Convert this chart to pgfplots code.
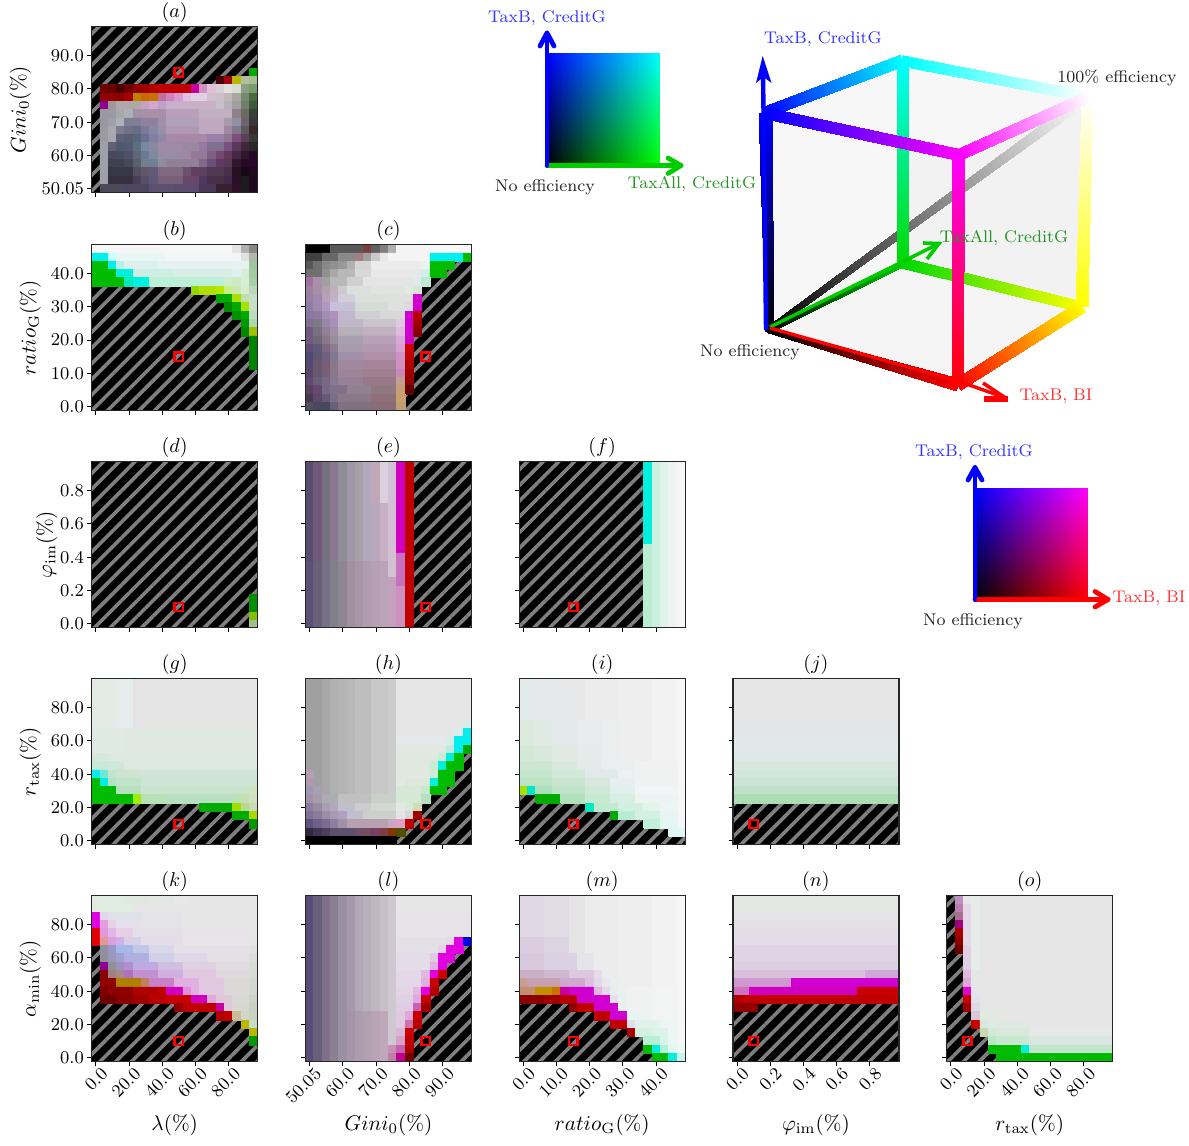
\documentclass[border=0pt]{standalone}
\usepackage{pgfplots}
\pgfplotsset{compat=1.18}
\usepgfplotslibrary{patchplots}
\usetikzlibrary{patterns.meta}
\def\Y#1#2{\gdef\Ya{#1}\gdef\Yb{#2}}
\def\C#1 #2 #3;{\xglobal\definecolor{c#3}{HTML}{#3}\edef\tmp{\noexpand\addplot[forget plot,fill=c#3,draw=c#3,line width=0.4pt] coordinates {(#1,\Ya)(\the\numexpr#2+1\relax,\Ya)(\the\numexpr#2+1\relax,\the\numexpr\Yb+1\relax)(#1,\the\numexpr\Yb+1\relax)(#1,\Ya)};}\tmp}
\def\H{\addplot[forget plot,fill=black,draw=none] coordinates {(0,0)(20,0)(20,20)(0,20)(0,0)};
\addplot[forget plot,draw=none,pattern={Lines[angle=45,distance=5.55pt,line width=1.8pt]},pattern color=gray] coordinates {(0,0)(20,0)(20,20)(0,20)(0,0)};}
\def\M#1#2{\edef\tmp{\noexpand\addplot[forget plot,red,line width=1.2pt] coordinates {(#1,#2)(\the\numexpr#1+1\relax,#2)(\the\numexpr#1+1\relax,\the\numexpr#2+1\relax)(#1,\the\numexpr#2+1\relax)(#1,#2)(\the\numexpr#1+1\relax,#2)};}\tmp}
% gradient edge: corners 1,4 at the start colour, 2,3 at the end colour
\newcommand\E[6]{\addplot[forget plot,patch,patch type=bilinear,shader=interp,mesh/color input=explicit] table[meta=c,row sep=crcr] {x y c\\ #1 rgb=#5\\ #2 rgb=#6\\ #3 rgb=#6\\ #4 rgb=#5\\};}
\newcommand\F[5]{\addplot[forget plot,fill=#5,draw=none] coordinates {#1 #2 #3 #4};}
\newcommand\T[4]{\node[text=#3,font=\fontsize{8.45}{10}\selectfont] at (axis cs:#1,#2) {#4};}
\pgfplotsset{panel/.style={scale only axis,width=83pt,height=83pt,anchor=south west,xmin=0,xmax=20,ymin=0,ymax=20,
 axis on top,xtick={0.5,4.5,8.5,12.5,16.5},ytick={0.5,4.5,8.5,12.5,16.5},xticklabels={},yticklabels={},
 xtick pos=bottom,ytick pos=left,tick align=outside,major tick length=2.2pt,
 tick style={black,line width=0.5pt},axis line style={line width=0.55pt,black!85},
 tick label style={font=\fontsize{9}{10}\selectfont},
 title style={font=\fontsize{10}{11}\selectfont,at={(0.5,1)},anchor=south,yshift=-7.5pt},
 x tick label style={rotate=45,anchor=north east,inner sep=1.5pt,xshift=3pt},
 y tick label style={inner sep=1.5pt},
 every axis x label/.style={at={(axis description cs:0.5,-0.38)},anchor=center,scale=1.06,font=\fontsize{10}{11}\selectfont},
 every axis y label/.style={at={(axis description cs:-0.37,0.5)},anchor=center,rotate=90,scale=1.06,font=\fontsize{10}{11}\selectfont}},
 xA/.style={xticklabels={0.0,20.0,40.0,60.0,80.0}},yA/.style={yticklabels={0.0,20.0,40.0,60.0,80.0}},
 xG/.style={xticklabels={50.05,60.0,70.0,80.0,90.0}},yG/.style={yticklabels={50.05,60.0,70.0,80.0,90.0}},
 xR/.style={xticklabels={0.0,10.0,20.0,30.0,40.0}},yR/.style={yticklabels={0.0,10.0,20.0,30.0,40.0}},
 xP/.style={xticklabels={0.0,0.2,0.4,0.6,0.8}},yP/.style={yticklabels={0.0,0.2,0.4,0.6,0.8}}}
\begin{document}
\begin{tikzpicture}
\useasboundingbox (0,0) rectangle (594.5pt,573pt);
% ---------- colour keys ----------
\begin{axis}[at={(0,0)},anchor=south west,scale only axis,width=594.5pt,height=573pt,hide axis,xmin=0,xmax=1189,ymin=0,ymax=1146,y dir=reverse,clip=false]
% square 1
\addplot[forget plot,patch,patch type=bilinear,shader=interp,mesh/color input=explicit] table[meta=c,row sep=crcr] {x y c\\ 547 166 rgb=0,0,0\\ 659 166 rgb=0,1,0\\ 659 54 rgb=0,1,1\\ 547 54 rgb=0,0,1\\};
\addplot[forget plot,color={rgb,255:red,0;green,204;blue,0},line width=2.4pt,line cap=round,line join=round] coordinates {(547,165.5)(681,165.5)};
\addplot[forget plot,color={rgb,255:red,0;green,204;blue,0},line width=2.4pt,line cap=round,line join=round] coordinates {(668,158)(681,165.5)(668,173.5)};
\addplot[forget plot,blue,line width=2.4pt,line cap=round,line join=round] coordinates {(547,165.5)(547,33)};
\addplot[forget plot,blue,line width=2.4pt,line cap=round,line join=round] coordinates {(540,46)(547,33)(554,46)};
\T{547}{18}{blue!80!white}{TaxB, CreditG}
\T{545}{187}{black!85}{No efficiency}
\T{692}{184}{green!50!black!85}{TaxAll, CreditG}
% square 2
\addplot[forget plot,patch,patch type=bilinear,shader=interp,mesh/color input=explicit] table[meta=c,row sep=crcr] {x y c\\ 975 600 rgb=0,0,0\\ 1087 600 rgb=1,0,0\\ 1087 488 rgb=1,0,1\\ 975 488 rgb=0,0,1\\};
\addplot[forget plot,red,line width=2.4pt,line cap=round,line join=round] coordinates {(975,599.5)(1108,599.5)};
\addplot[forget plot,red,line width=2.4pt,line cap=round,line join=round] coordinates {(1095,591.5)(1108,599.5)(1095,607)};
\addplot[forget plot,blue,line width=2.4pt,line cap=round,line join=round] coordinates {(975,599.5)(975,467.5)};
\addplot[forget plot,blue,line width=2.4pt,line cap=round,line join=round] coordinates {(968,480)(975,467.5)(982,480)};
\T{974}{452}{blue!80!white}{TaxB, CreditG}
\T{1149}{598}{red!80!white}{TaxB, BI}
\T{973}{621}{black!85}{No efficiency}
% cube faces
\F{(768,330)}{(764,113)}{(902,61)}{(902,263)}{black!3}
\F{(902,263)}{(902,61)}{(1088,97)}{(1082,307)}{black!5}
\F{(768,330)}{(902,263)}{(1082,307)}{(958,385)}{black!4}
\F{(764,113)}{(902,61)}{(1088,97)}{(959,155)}{black!3}
% cube edges
\E{769 329}{903 260}{903 267}{769 333}{0,0,0}{0,.8,0}
\E{766.5 328}{1085 93}{1091 101}{769.5 332}{0,0,0}{1,1,1}
\E{766 332}{759 113}{772 113}{774 332}{0,0,0}{0,0,1}
\E{769 327.6}{959.7 379.2}{956.3 390.8}{767 332.4}{0,0,0}{1,0,0}
\E{897 61}{897 263}{908 263}{908 61}{0,1,1}{0,.85,0}
\E{903 258}{1083 302}{1081 312}{901 268}{0,.85,0}{1,1,0}
\E{1082 97}{1076 307}{1088 307}{1093 97}{1,1,1}{1,1,0}
\E{955 380}{1079 302}{1085 312}{961 390}{1,0,0}{1,1,0}
\E{762 108}{900 55.5}{904 66}{766 118}{0,0,1}{0,1,1}
\E{903 56}{1089 92}{1087 102}{901 66}{0,1,1}{1,1,1}
\E{957 150}{1086 92}{1090 102}{961 160}{1,0,1}{1,1,1}
\E{765 107.6}{960 149.6}{958 160.4}{763 118.4}{0,0,1}{1,0,1}
\E{953 155}{952 385}{963 385}{965 155}{1,0,1}{1,0,0}
% cube arrows on the edges
\addplot[forget plot,blue,line width=2.2pt] coordinates {(766,330)(763,70)};
\addplot[forget plot,fill=blue,draw=none] coordinates {(762.7,56)(771.5,83)(763.5,77)(756,83)(762.7,56)};
\addplot[forget plot,color={rgb,255:red,0;green,204;blue,0},line width=1.7pt] coordinates {(770,327)(902,262)(938,244)};
\addplot[forget plot,color={rgb,255:red,0;green,204;blue,0},line width=1.8pt] coordinates {(923,243)(939,243.5)(927,259)};
\addplot[forget plot,red,line width=1.7pt] coordinates {(770,328)(958,381)(1006,398)};
\addplot[forget plot,red,line width=1.8pt] coordinates {(983,383)(1004,397)};
\addplot[forget plot,red,line width=3pt] coordinates {(984,398.5)(1008,398.5)};
\T{823}{39}{blue!80!white}{TaxB, CreditG}
\T{1117}{78}{black!85}{100\% efficiency}
\T{1004}{238}{green!50!black!85}{TaxAll, CreditG}
\T{750}{352}{black!85}{No efficiency}
\T{1056}{396}{red!80!white}{TaxB, BI}
\end{axis}
% ---------- (a) ----------
\begin{axis}[panel,at={(45.85pt,476.65pt)},title={$(a)$},ylabel={$Gini_0(\%)$},yG,ylabel style={at={(axis description cs:-0.43,0.5)}}]
\H
\Y{14}{14}\C 19 19 00AA00;
\Y{13}{13}\C 15 15 4A0008;\C 16 16 A00010;\C 17 17 B8B800;\C 18 18 B0C0A0;\C 19 19 A0C090;
\Y{12}{12}\C 1 2 6A0000;\C 3 3 4A0000;\C 4 4 700000;\C 5 5 900000;\C 6 6 A00000;\C 7 7 B00000;\C 8 11 C00000;\C 12 12 C800A0;\C 13 13 D090C0;\C 14 14 E0C0D8;\C 15 15 D8D0D4;\C 16 16 E0E0DC;\C 17 17 D8DCD0;\C 18 18 8AA080;\C 19 19 7A9A70;
\Y{11}{11}\C 1 3 900000;\C 4 4 A80000;\C 5 5 C08000;\C 6 6 C86800;\C 7 7 C87000;\C 8 8 C070A0;\C 9 9 D080C0;\C 10 10 D898D0;\C 11 11 E0C0E0;\C 12 13 E0D0E4;\C 14 14 D0C0D0;\C 15 15 CCC0C8;\C 16 16 C0B8B8;\C 17 17 A8A8A0;\C 18 18 788870;\C 19 19 4A6A40;
\Y{10}{10}\C 1 1 900090;\C 2 2 A09898;\C 3 5 B0A8A8;\C 6 6 C8A0C0;\C 7 7 D0A8D0;\C 8 8 C0A0C8;\C 9 14 C8B0C8;\C 15 15 C8C0C8;\C 16 16 B8B0B8;\C 17 17 A0A0A0;\C 18 18 6F7F68;\C 19 19 3F5A3A;
\Y{9}{9}\C 1 2 9A9AA0;\C 3 3 A8A8AC;\C 4 4 B0B0B8;\C 5 5 A090A8;\C 6 8 A890A8;\C 9 12 B8A0B8;\C 13 16 C0B0C0;\C 17 17 908088;\C 18 18 6A6A60;\C 19 19 3A4038;
\Y{8}{8}\C 1 1 9898A0;\C 2 2 A0A0A8;\C 3 3 B0B0B8;\C 4 5 7E7E94;\C 6 7 9080A0;\C 8 8 A090A8;\C 9 12 B0A0B8;\C 13 15 C0A8C0;\C 16 16 A89CAC;\C 17 17 9090A0;\C 18 18 706070;\C 19 19 383838;
\Y{7}{7}\C 1 1 9A9AA0;\C 2 2 A8A8B0;\C 3 3 7C7C90;\C 4 4 70708A;\C 5 5 686E88;\C 6 6 7A7A98;\C 7 7 8888A4;\C 8 8 9A90A8;\C 9 12 B098B0;\C 13 15 C0A8C0;\C 16 16 A088A0;\C 17 17 807888;\C 18 18 5A5A58;\C 19 19 3A2828;
\Y{6}{6}\C 1 1 9A9AA0;\C 2 2 A8A8B0;\C 3 3 606078;\C 4 4 585C74;\C 5 5 586478;\C 6 6 6C7090;\C 7 7 8080A0;\C 8 8 9088A8;\C 9 13 A888A8;\C 14 15 9A80A8;\C 16 16 907890;\C 17 17 804C80;\C 18 18 5A4058;\C 19 19 383838;
\Y{5}{5}\C 1 1 A0A0A8;\C 2 2 606078;\C 3 3 505870;\C 4 4 505A70;\C 5 5 587080;\C 6 6 7888A0;\C 7 7 8888A0;\C 8 10 A088A8;\C 11 12 9A88A0;\C 13 13 9878A0;\C 14 15 807090;\C 16 16 7A5080;\C 17 17 583858;\C 18 18 402838;\C 19 19 282828;
\Y{4}{4}\C 1 1 A0A0A8;\C 2 2 484858;\C 3 3 484C60;\C 4 4 505068;\C 5 5 606878;\C 6 6 6A7A90;\C 7 7 8088A0;\C 8 10 988CA8;\C 11 11 A088A0;\C 12 13 987898;\C 14 14 806080;\C 15 15 704870;\C 16 16 603858;\C 17 17 482848;\C 18 18 301828;\C 19 19 280828;
\Y{3}{3}\C 1 1 A0A0A8;\C 2 3 404050;\C 4 4 484858;\C 5 5 586070;\C 6 7 708090;\C 8 8 908CA0;\C 9 12 908098;\C 13 13 806888;\C 14 14 685078;\C 15 15 603860;\C 16 16 583858;\C 17 17 301828;\C 18 19 280828;
\Y{2}{2}\C 1 1 A0A0A8;\C 2 4 383848;\C 5 5 505060;\C 6 6 605868;\C 7 7 685878;\C 8 10 806880;\C 11 11 705070;\C 12 13 604060;\C 14 15 503850;\C 16 16 483048;\C 17 17 281020;\C 18 18 180818;\C 19 19 200820;
\Y{1}{1}\C 1 1 A0A0A8;\C 2 4 383040;\C 5 5 484058;\C 6 6 585068;\C 7 7 605878;\C 8 10 786078;\C 11 12 684868;\C 13 13 503860;\C 14 15 483048;\C 16 16 402848;\C 17 17 281028;\C 18 18 1C1C1C;\C 19 19 200820;
\Y{0}{0}\C 1 3 4A4A58;\C 4 6 4C4660;\C 7 9 5C5070;\C 10 12 5C4C70;\C 13 14 4A3858;\C 15 16 382030;\C 17 17 301028;\C 18 18 1C1C1C;\C 19 19 200820;
\M{10}{14}
\end{axis}
% ---------- (b) ----------
\begin{axis}[panel,at={(45.85pt,367.65pt)},title={$(b)$},ylabel={$ratio_{\mathrm{G}}(\%)$},yR]
\H
\Y{19}{19}\C 0 16 F6F6F6;\C 17 17 E4E4E4;\C 18 18 B0B0B0;\C 19 19 888888;
\Y{18}{18}\C 0 1 00F0F0;\C 2 2 C8FFFF;\C 3 8 E8F6F4;\C 9 16 F2F6F6;\C 17 17 F4F4F4;\C 18 18 E0E0E0;\C 19 19 B0B8A8;
\Y{17}{17}\C 0 1 00BB00;\C 2 2 00EEEE;\C 3 3 B8F0E8;\C 4 7 DCF0EC;\C 8 18 E6F2F0;\C 19 19 A0C8A0;
\Y{16}{16}\C 0 2 00BB00;\C 3 4 00F0E0;\C 5 9 CDEEE0;\C 10 16 D8EEE4;\C 17 17 E0F0EC;\C 18 18 D8ECD8;\C 19 19 A0CCA0;
\Y{15}{15}\C 0 3 00BB00;\C 4 4 00ECC0;\C 5 6 00F0E0;\C 7 15 BCEFD8;\C 16 16 CCEECC;\C 17 17 D0E8C8;\C 18 18 D8ECD8;\C 19 19 A8D0A8;
\Y{14}{14}\C 12 12 90D800;\C 13 14 B0E000;\C 15 15 B8E800;\C 16 16 C8F080;\C 17 17 C8E8B0;\C 18 18 D8ECD0;\C 19 19 B8D8B8;
\Y{13}{13}\C 15 16 00AA00;\C 17 17 A8E000;\C 18 18 C0DEB0;\C 19 19 C8E0C8;
\Y{12}{12}\C 16 16 008800;\C 17 17 00AA00;\C 18 18 A8E000;\C 19 19 C8E0C8;
\Y{11}{11}\C 17 17 009000;\C 18 18 00AA00;\C 19 19 C0DCC0;
\Y{10}{10}\C 18 18 009900;\C 19 19 B0D8B0;
\Y{9}{9}\C 18 18 008800;\C 19 19 A0C000;
\Y{5}{8}\C 19 19 008400;
\M{10}{6}
\end{axis}
% ---------- (c) ----------
\begin{axis}[panel,at={(152.725pt,367.65pt)},title={$(c)$}]
\H
\Y{19}{19}\C 0 2 000000;\C 3 6 585858;\C 7 7 7A4040;\C 8 8 606060;\C 9 9 808080;\C 10 10 B0B0B0;\C 11 14 F4F4F4;\C 15 19 F8F8F8;
\Y{18}{18}\C 0 1 404040;\C 2 3 686868;\C 4 5 8A8A8A;\C 6 6 A08080;\C 7 7 A0A0A0;\C 8 8 C8C8C8;\C 9 9 E8E8E8;\C 10 14 F4F4F4;\C 15 18 00F0F0;\C 19 19 00BB00;
\Y{17}{17}\C 0 0 585858;\C 1 1 707070;\C 2 2 888888;\C 3 3 909090;\C 4 4 989898;\C 5 5 B0B0B0;\C 6 7 D4D4D4;\C 8 13 ECECEC;\C 14 14 E8F4F0;\C 15 17 00BB00;
\Y{16}{16}\C 0 1 707070;\C 2 2 909090;\C 3 3 A8A8A8;\C 4 5 B8B8B8;\C 6 7 D8D8D8;\C 8 13 E8E8E8;\C 14 14 D0F0E8;\C 15 16 00BB00;
\Y{15}{15}\C 0 0 A070A0;\C 1 1 A890A8;\C 2 2 A0A0A0;\C 3 4 B8B8B8;\C 5 6 D0D0D0;\C 7 12 E4E4E4;\C 13 13 E0EAE8;\C 14 14 C0E8D8;
\Y{14}{14}\C 0 0 A080A0;\C 1 1 A890A8;\C 2 2 B0A0B0;\C 3 3 C0B0C0;\C 4 4 D0C8D0;\C 5 7 DCE0DC;\C 8 11 E0E4E0;\C 12 12 E0EAE0;\C 13 13 D8E4D8;
\Y{13}{13}\C 0 0 9880A0;\C 1 1 A088B0;\C 2 2 B8A0B8;\C 3 3 C0B0C8;\C 4 5 D0D0D8;\C 6 9 DCE0DC;\C 10 12 E0E0E0;\C 13 13 D000D0;
\Y{12}{12}\C 0 0 8C80A0;\C 1 1 A088B0;\C 2 2 B098C0;\C 3 5 C8C0D8;\C 6 9 D4DCD8;\C 10 11 DEE0E0;\C 12 12 E0D8E0;\C 13 13 D000D0;
\Y{11}{11}\C 0 0 8878A0;\C 1 1 9078A0;\C 2 2 A090B0;\C 3 3 B090C0;\C 4 5 C0B8D0;\C 6 8 D0D0D0;\C 9 11 D8D8D8;\C 12 12 D000D0;\C 13 13 B80000;
\Y{10}{10}\C 0 0 807090;\C 1 1 807888;\C 2 2 9888A8;\C 3 3 A890B8;\C 4 6 C0B8C8;\C 7 10 CCC4CC;\C 11 11 E0C8E0;\C 12 12 D000D0;\C 13 13 A00000;
\Y{9}{9}\C 0 0 705880;\C 1 1 787080;\C 2 2 908098;\C 3 3 A090A8;\C 4 6 B8B0B8;\C 7 10 C0B0C0;\C 11 11 E0B8E0;\C 12 12 D000D0;\C 13 13 880000;
\Y{8}{8}\C 0 0 705880;\C 1 1 706878;\C 2 2 887888;\C 3 3 989098;\C 4 6 A8A0B0;\C 7 10 B8A0B8;\C 11 11 D8A8D8;\C 12 12 D000C0;
\Y{7}{7}\C 0 0 604C78;\C 1 1 605878;\C 2 2 806880;\C 3 3 907C90;\C 4 6 A89CAC;\C 7 10 B498B0;\C 11 11 D8A0D0;\C 12 12 C80000;
\Y{6}{6}\C 0 0 504878;\C 1 1 605870;\C 2 2 706080;\C 3 3 807890;\C 4 6 A090A8;\C 7 10 B090A8;\C 11 11 D090C8;\C 12 12 C00000;
\Y{5}{5}\C 0 0 584870;\C 1 1 685870;\C 2 2 785C78;\C 3 3 887888;\C 4 6 A088A0;\C 7 10 A88498;\C 11 11 D090C0;\C 12 12 B00000;
\Y{4}{4}\C 0 0 584868;\C 1 1 6A5870;\C 2 2 786078;\C 3 3 887888;\C 4 6 A08498;\C 7 10 A08090;\C 11 11 C888B8;\C 12 12 A00000;
\Y{3}{3}\C 0 0 604870;\C 1 1 686078;\C 2 2 786888;\C 3 3 887890;\C 4 6 988098;\C 7 10 987888;\C 11 11 C0A090;\C 12 12 900000;
\Y{2}{2}\C 0 0 584060;\C 1 1 684870;\C 2 2 786888;\C 3 4 807088;\C 5 7 908090;\C 8 10 907880;\C 11 11 C8A078;\C 12 12 600000;
\Y{1}{1}\C 0 0 483850;\C 1 1 5C4868;\C 2 2 685878;\C 3 3 787088;\C 4 7 887888;\C 8 10 907078;\C 11 11 C8A070;
\Y{0}{0}\C 0 0 505060;\C 1 2 484860;\C 3 3 686078;\C 4 7 807080;\C 8 10 8A6C78;\C 11 11 C0A070;
\M{14}{6}
\end{axis}
% ---------- (d) ----------
\begin{axis}[panel,at={(45.85pt,259.15pt)},title={$(d)$},ylabel={$\varphi_{\mathrm{im}}(\%)$},yP,ylabel style={at={(axis description cs:-0.27,0.5)}}]
\H
\Y{0}{0}\C 19 19 A0C090;
\Y{1}{1}\C 19 19 80C000;
\Y{2}{3}\C 19 19 009000;
\M{10}{2}
\end{axis}
% ---------- (e) ----------
\begin{axis}[panel,at={(152.725pt,259.15pt)},title={$(e)$}]
\H
\Y{8}{19}\C 0 0 584C70;\C 1 1 705A78;\C 2 2 757080;\C 3 3 8A7890;\C 4 4 908C98;\C 5 5 A098A8;\C 6 6 A8A0A8;\C 7 7 B4A8BC;
\Y{15}{19}\C 8 8 C0A8B8;\C 9 9 DCD0DC;
\Y{8}{14}\C 8 8 B8A8BC;\C 9 9 C8B0C4;
\Y{0}{7}\C 0 0 5A5078;\C 1 1 6A6078;\C 2 2 787088;\C 3 3 808088;\C 4 4 8E8694;\C 5 5 A090A0;\C 6 6 AA94A8;\C 7 7 B09CB0;\C 8 8 B8A0B4;\C 9 9 BCA4B8;
\Y{6}{19}\C 10 10 D4C0D4;
\Y{0}{5}\C 10 10 C4A0BC;
\Y{9}{19}\C 11 11 D000C0;
\Y{5}{8}\C 11 11 C870C0;
\Y{0}{4}\C 11 11 CC90C0;
\Y{0}{19}\C 12 12 C00000;
\M{14}{2}
\end{axis}
% ---------- (f) ----------
\begin{axis}[panel,at={(259.6pt,259.15pt)},title={$(f)$}]
\H
\Y{10}{19}\C 15 15 00F0E0;
\Y{0}{9}\C 15 15 B8EDD4;
\Y{0}{19}\C 16 16 CCF0E0;\C 17 17 E0F2EC;\C 18 18 ECF4F2;\C 19 19 F6F6F6;
\M{6}{2}
\end{axis}
% ---------- (g) ----------
\begin{axis}[panel,at={(45.85pt,150.65pt)},title={$(g)$},ylabel={$r_{\mathrm{tax}}(\%)$},yA]
\H
\Y{14}{19}\C 0 2 E4EAE4;\C 3 4 E4ECEC;\C 5 19 E4E4E4;
\Y{11}{13}\C 0 3 E0EAE4;\C 4 19 E0E8E4;
\Y{10}{10}\C 0 1 D8E8D8;\C 2 19 DCE8E0;
\Y{9}{9}\C 0 1 C8E8D8;\C 2 3 D0E8DC;\C 4 19 DCE8E0;
\Y{8}{8}\C 0 0 00EEEE;\C 1 1 70E8D8;\C 2 2 C0E4CC;\C 3 5 CCE4D0;\C 6 19 D0E4D8;
\Y{7}{7}\C 0 0 00BB00;\C 1 1 00EEDD;\C 2 2 B0E4C8;\C 3 5 C0E4C8;\C 6 19 CEE4D4;
\Y{6}{6}\C 0 2 00BB00;\C 3 5 B8E0C0;\C 6 18 C8E4CC;\C 19 19 D0E4C0;
\Y{5}{5}\C 0 4 00BB00;\C 5 5 A0EE00;\C 6 8 B8E0B8;\C 9 16 B8E0C0;\C 17 17 BCE0B8;\C 18 18 C8E0B0;\C 19 19 D0E0C0;
\Y{4}{4}\C 13 16 00AA00;\C 17 17 A0E000;\C 18 18 B8D890;\C 19 19 C8DCB8;
\Y{3}{3}\C 17 18 00AA00;\C 19 19 A8D800;
\Y{2}{2}\C 19 19 009900;
\M{10}{2}
\end{axis}
% ---------- (h) ----------
\begin{axis}[panel,at={(152.725pt,150.65pt)},title={$(h)$}]
\H
\Y{5}{19}\C 0 1 A0A0A0;\C 2 2 A8A8A8;\C 3 3 B0B0B0;\C 4 4 B4B4B4;\C 5 5 B8B8B8;\C 6 7 BEBEBE;\C 8 9 C8C8C8;\C 10 10 CCCCCC;
\Y{14}{19}\C 11 19 E6E6E6;
\Y{14}{14}\C 19 19 D8ECEC;
\Y{13}{13}\C 11 17 E6E6E6;\C 18 18 DCECEC;\C 19 19 00EEEE;
\Y{12}{12}\C 11 16 E4E8E8;\C 17 17 D8ECE8;\C 18 19 00EEEE;
\Y{11}{11}\C 11 16 E4E8E4;\C 17 17 C0ECE0;\C 18 18 00EEEE;\C 19 19 00AA00;
\Y{10}{10}\C 11 15 E0E8E0;\C 16 16 C8ECD8;\C 17 17 00EEDD;\C 18 18 00BB00;
\Y{9}{9}\C 11 14 E0E8E0;\C 15 15 C8ECD8;\C 16 16 00EEDD;\C 17 18 00BB00;
\Y{8}{8}\C 0 0 B0A0B0;\C 11 14 E0E8E0;\C 15 15 D0ECD8;\C 16 17 00BB00;
\Y{7}{7}\C 0 0 B098B0;\C 11 11 E4E8E4;\C 12 14 DCE8DC;\C 15 15 00EEDD;\C 16 17 00BB00;
\Y{6}{6}\C 0 0 A098B0;\C 1 1 A8A0B0;\C 11 13 D8E8D8;\C 14 14 C8E8D0;\C 15 16 00BB00;
\Y{5}{5}\C 0 0 A090A8;\C 1 1 A89CA8;\C 2 3 ACACB4;\C 4 7 C0C0C0;\C 8 10 C8D0C8;\C 11 13 D4E8D4;\C 14 14 B8E0C0;
\Y{4}{4}\C 0 0 8C7CA0;\C 1 1 988CA4;\C 2 2 A8A0B0;\C 3 3 B0A8C0;\C 4 5 C0C0CC;\C 6 7 CCCCCC;\C 8 10 D0D8D0;\C 11 11 E4E8E4;\C 12 12 D8E8D8;\C 13 13 D0DCB8;
\Y{3}{3}\C 0 0 807098;\C 1 1 8A7C98;\C 2 2 9C8CA8;\C 3 3 A898B0;\C 4 4 B0A0C0;\C 5 6 C0C0CC;\C 7 10 CCD0CC;\C 11 11 E4E4E4;\C 12 12 D8D4D8;\C 13 13 A00000;
\Y{2}{2}\C 0 0 5C5480;\C 1 1 706088;\C 2 2 7C6C90;\C 3 3 8C80A0;\C 4 4 A090A8;\C 5 9 B8A0B0;\C 10 10 C8A8C0;\C 11 11 DCA0C8;\C 12 12 C00000;
\Y{1}{1}\C 0 0 302840;\C 1 1 403450;\C 2 2 4C4058;\C 3 3 5C5068;\C 4 5 605070;\C 6 6 6C5068;\C 7 7 784C60;\C 8 8 784060;\C 9 9 803C48;\C 10 10 803800;\C 11 11 505000;
\Y{0}{0}\C 0 10 000000;
\M{14}{2}
\end{axis}
% ---------- (i) ----------
\begin{axis}[panel,at={(259.6pt,150.65pt)},title={$(i)$}]
\H
\Y{15}{19}\C 0 1 E2EAEA;\C 2 5 E6E8EA;\C 6 7 E8E8E8;\C 8 11 ECECEC;
\Y{12}{14}\C 0 1 DCEADE;\C 2 3 E0EAE4;\C 4 6 E4EAEC;\C 7 9 E8EAEC;\C 10 11 ECEEEE;
\Y{10}{19}\C 12 15 EEEEEE;
\Y{10}{11}\C 0 1 D4E8D8;\C 2 3 D8E8DC;\C 4 6 E0EAE2;\C 7 9 E6EAEA;\C 10 11 EAEEEE;
\Y{10}{19}\C 16 18 F2F2F2;
\Y{1}{19}\C 19 19 F6F6F6;
\Y{9}{9}\C 0 3 CCE6D0;\C 4 6 D8E8DC;\C 7 9 E4EAE8;\C 10 13 EAEEEE;\C 14 18 F0F2F2;
\Y{8}{8}\C 0 3 C4E6CC;\C 4 7 D0E8D8;\C 8 11 E0EAE8;\C 12 13 ECF0F0;\C 14 18 F0F2F2;
\Y{7}{7}\C 0 3 BCE4C4;\C 4 7 C8E4D0;\C 8 10 D8E8E0;\C 11 13 E8EEEE;\C 14 18 F0F2F2;
\Y{6}{6}\C 0 0 A8E000;\C 1 1 00E8C8;\C 2 3 ACE0BC;\C 4 7 C0E4C8;\C 8 10 D0E8D8;\C 11 13 E0F0EC;\C 14 18 F0F4F4;
\Y{5}{5}\C 2 4 00AA00;\C 5 7 B0E0BC;\C 8 10 C8E8D0;\C 11 13 D8EEE4;\C 14 18 ECF4F2;
\Y{4}{4}\C 8 8 00E8C0;\C 9 11 C0EAD0;\C 12 14 D0F0E0;\C 15 16 E0F4EC;\C 17 18 ECF4F4;
\Y{3}{3}\C 11 11 00AA00;\C 12 13 B8ECD0;\C 14 16 D4F0E4;\C 17 18 E8F4F4;
\Y{2}{2}\C 15 16 C0F0DC;\C 17 18 E4F6F0;
\Y{1}{1}\C 18 19 E0F8F4;
\M{6}{2}
\end{axis}
% ---------- (j) ----------
\begin{axis}[panel,at={(366.475pt,150.65pt)},title={$(j)$}]
\H
\Y{15}{19}\C 0 19 E6E6E6;
\Y{13}{14}\C 0 19 E3E6E8;
\Y{11}{12}\C 0 19 E0E8E8;
\Y{10}{10}\C 0 19 DCE8E6;
\Y{9}{9}\C 0 19 D8E6E0;
\Y{8}{8}\C 0 19 D2E6DA;
\Y{7}{7}\C 0 19 CCE4D4;
\Y{6}{6}\C 0 19 BEE0C8;
\Y{5}{5}\C 0 19 ACDCB4;
\M{2}{2}
\end{axis}
% ---------- (k) ----------
\begin{axis}[panel,at={(45.85pt,42.15pt)},title={$(k)$},ylabel={$\alpha_{\min}(\%)$},yA,xA,xlabel={$\lambda(\%)$}]
\H
\Y{19}{19}\C 0 3 E0ECE0;\C 4 6 E0E8E0;\C 7 9 E4E8E4;\C 10 11 E8E8E8;\C 12 19 E6E6E6;
\Y{18}{18}\C 0 4 E0ECE0;\C 5 19 E6E6E6;
\Y{17}{17}\C 0 0 E000E0;\C 1 1 E0D8E8;\C 2 5 E0E0E8;\C 6 10 E4E4E8;\C 11 19 E6E6E6;
\Y{16}{16}\C 0 0 E000E0;\C 1 1 E0A0E0;\C 2 2 E8D0E8;\C 3 5 E4E0EC;\C 6 10 E4E4E8;\C 11 19 E6E6E6;
\Y{15}{15}\C 0 0 E00000;\C 1 1 E098D8;\C 2 2 E0B8E8;\C 3 4 E8D0E4;\C 5 10 E4E0E8;\C 11 18 E6E4E8;\C 19 19 E6E6E6;
\Y{14}{14}\C 0 0 E00000;\C 1 1 E09898;\C 2 2 D8A0E0;\C 3 3 D0B0E8;\C 4 5 D8D0E8;\C 6 10 E4DCE8;\C 11 18 E8E4E8;\C 19 19 E4E4E4;
\Y{13}{13}\C 1 1 9090A0;\C 2 2 9898C8;\C 3 4 A8B8E8;\C 5 6 C0C8E8;\C 7 9 D8D8E8;\C 10 18 E4E0E8;\C 19 19 E0E0E0;
\Y{12}{12}\C 1 1 909098;\C 2 2 9898B8;\C 3 3 A0A0D0;\C 4 6 B0B0E0;\C 7 9 D0D0E8;\C 10 13 E0D8E8;\C 14 18 E4E0E4;\C 19 19 DCDCDC;
\Y{11}{11}\C 1 1 900090;\C 2 2 909098;\C 3 3 A090C0;\C 4 4 B090D0;\C 5 7 C0A8E0;\C 8 10 D0C0E0;\C 11 14 E0D0E4;\C 15 18 E0DCE0;\C 19 19 D8DCD8;
\Y{10}{10}\C 1 1 880000;\C 2 2 A08080;\C 3 3 A88888;\C 4 4 B070C0;\C 5 7 C090D0;\C 8 10 D0B0E0;\C 11 14 E0C8E0;\C 15 18 E0D8DC;\C 19 19 D8DCD8;
\Y{9}{9}\C 1 2 900000;\C 3 5 B08000;\C 6 6 C08060;\C 7 9 C880C8;\C 10 12 E0B0E0;\C 13 15 E0C8E0;\C 16 18 DCD8D8;\C 19 19 D4D8D4;
\Y{8}{8}\C 1 1 800000;\C 2 4 900000;\C 5 7 B00000;\C 8 8 C00000;\C 9 10 D000C0;\C 11 11 E090D8;\C 12 12 E0B0E0;\C 13 15 E0C8E0;\C 16 18 DCD8D8;\C 19 19 D0D8D0;
\Y{7}{7}\C 1 2 700000;\C 3 4 880000;\C 5 6 A00000;\C 7 8 B80000;\C 9 11 C80000;\C 12 13 D000C0;\C 14 14 E0A8D8;\C 15 16 E0C8D8;\C 17 18 D8D8D4;\C 19 19 CCD4C8;
\Y{6}{6}\C 10 10 900000;\C 11 14 C00000;\C 15 15 C800A0;\C 16 16 E0C8DC;\C 17 18 D8D8D0;\C 19 19 C8D0C0;
\Y{5}{5}\C 15 15 B00000;\C 16 16 C00000;\C 17 17 C8BC98;\C 18 18 D0D8C8;\C 19 19 C8D4C0;
\Y{4}{4}\C 18 18 BCB800;\C 19 19 C8DCC8;
\Y{3}{3}\C 19 19 B8B800;
\Y{2}{2}\C 19 19 009900;
\M{10}{2}
\end{axis}
% ---------- (l) ----------
\begin{axis}[panel,at={(152.725pt,42.15pt)},title={$(l)$},xG,xlabel={$Gini_0(\%)$}]
\H
\Y{0}{19}\C 0 0 584C78;\C 1 1 686078;\C 2 2 80708C;\C 3 3 8A8090;\C 4 4 9A90A4;
\Y{6}{19}\C 5 5 A898AC;\C 6 6 B0A8B8;\C 7 7 B8B0BC;\C 8 8 C0B8C0;\C 9 9 C8C0C8;
\Y{0}{5}\C 5 5 A894A8;\C 6 6 AC9CB0;\C 7 7 B0A0B0;\C 8 8 B8A4B4;\C 9 9 C0A8BC;
\Y{2}{19}\C 10 10 D0C8D0;
\Y{18}{19}\C 11 19 E6E6E6;
\Y{15}{17}\C 11 19 E6E4E8;
\Y{14}{14}\C 11 16 E4E0E8;\C 17 17 E8D8E8;\C 18 18 E000E0;\C 19 19 0000E0;
\Y{13}{13}\C 11 15 E4E0E8;\C 16 16 E8D0E8;\C 17 18 E000E0;
\Y{12}{12}\C 11 14 E4DCE8;\C 15 15 E4C8E8;\C 16 17 E000E0;
\Y{11}{11}\C 11 14 E4DCE8;\C 15 15 E0B0E0;\C 16 16 E000E0;
\Y{10}{10}\C 11 13 E4D8E8;\C 14 14 E0B8E0;\C 15 15 E000E0;\C 16 16 CC0000;
\Y{9}{9}\C 11 13 E4D8E8;\C 14 14 E0B0E0;\C 15 15 CC0000;
\Y{8}{8}\C 11 12 E4D4E4;\C 13 13 E0B8E0;\C 14 14 E000E0;\C 15 15 B00000;
\Y{7}{7}\C 11 12 E0D0E4;\C 13 13 E0A8E0;\C 14 14 C80000;
\Y{6}{6}\C 11 12 E0CCE4;\C 13 13 C860B8;\C 14 14 A00000;
\Y{5}{5}\C 11 11 E0C8E0;\C 12 12 E0A8D8;\C 13 13 C80000;
\Y{4}{4}\C 11 11 E0C8E0;\C 12 12 D070B0;\C 13 13 B80000;
\Y{3}{3}\C 11 11 D8B8D8;\C 12 12 C80000;
\Y{2}{2}\C 11 11 D8A0C8;\C 12 12 C00000;
\Y{1}{1}\C 10 10 C890B8;\C 11 11 C860B0;\C 12 12 B00000;
\Y{0}{0}\C 10 10 C080A8;\C 11 11 C00090;\C 12 12 700000;
\M{14}{2}
\end{axis}
% ---------- (m) ----------
\begin{axis}[panel,at={(259.6pt,42.15pt)},title={$(m)$},xR,xlabel={$ratio_{\mathrm{G}}(\%)$}]
\H
\Y{15}{19}\C 0 2 E0D8E4;\C 3 5 E0DCE4;\C 6 7 E4E4E4;\C 8 11 ECECEC;
\Y{13}{14}\C 0 2 DCCCE0;\C 3 5 DCD4E0;\C 6 7 E4E4E4;\C 8 11 ECECEC;
\Y{11}{12}\C 0 2 D8C8DC;\C 3 6 DCD0E4;\C 7 8 E4E4EA;\C 9 11 ECECEC;
\Y{10}{10}\C 0 2 C8B0C8;\C 3 5 D0B8D0;\C 6 8 DCC8E0;\C 9 9 E4DCE8;\C 10 11 ECECF0;
\Y{9}{19}\C 12 15 EEEEEE;\C 16 18 F2F2F2;
\Y{0}{19}\C 19 19 F6F6F6;
\Y{9}{9}\C 0 0 C8A090;\C 1 4 C8A0B0;\C 5 7 D0A8D0;\C 8 8 DCC0E0;\C 9 9 E4D8E8;\C 10 10 E8E8EC;\C 11 11 ECEEEE;
\Y{8}{8}\C 0 1 C09070;\C 2 3 C09000;\C 4 4 C87000;\C 5 5 C800A0;\C 6 8 D000D0;\C 9 9 E0B8E0;\C 10 10 E4D8E8;\C 11 11 E8ECEE;\C 12 12 ECF0F0;\C 13 15 F0F2F2;\C 16 18 F2F4F4;
\Y{7}{7}\C 0 2 8C0000;\C 3 4 A00000;\C 5 6 B80000;\C 7 10 D000D0;\C 11 11 E4E0F0;\C 12 12 E8F0F0;\C 13 15 F0F2F2;\C 16 18 F2F4F4;
\Y{6}{6}\C 6 6 900000;\C 7 8 C00000;\C 9 11 D000D0;\C 12 12 E8F0F0;\C 13 15 F0F2F2;\C 16 18 F2F4F4;
\Y{5}{5}\C 9 10 C00000;\C 11 12 D000D0;\C 13 14 E8F4F0;\C 15 15 F0F2F2;\C 16 18 F2F4F4;
\Y{4}{4}\C 11 12 C00000;\C 13 13 DCE0E8;\C 14 16 E0F2EC;\C 17 18 ECF4F4;
\Y{3}{3}\C 13 13 AA0000;\C 14 15 D4F0E0;\C 16 17 DCF2E8;\C 18 18 ECF6F4;
\Y{2}{2}\C 15 16 B8F0D4;\C 17 17 D8F4E8;\C 18 18 ECF6F4;
\Y{1}{1}\C 15 15 00BB00;\C 16 16 00EEDD;\C 17 17 B0F0DC;\C 18 18 E0F8F0;\C 19 19 ECF8F6;
\Y{0}{0}\C 16 17 00BB00;\C 18 18 00EEDD;\C 19 19 C8F4EC;
\M{6}{2}
\end{axis}
% ---------- (n) ----------
\begin{axis}[panel,at={(366.475pt,42.15pt)},title={$(n)$},xP,xlabel={$\varphi_{\mathrm{im}}(\%)$}]
\H
\Y{18}{19}\C 0 19 E4E8E4;
\Y{17}{17}\C 0 19 E4E4E6;
\Y{16}{16}\C 0 19 E4E0E6;
\Y{14}{15}\C 0 19 E4DCE6;
\Y{12}{13}\C 0 19 E0D4E4;
\Y{11}{11}\C 0 19 DCD0E0;
\Y{10}{10}\C 0 15 D8C0DC;\C 16 19 D0A8D8;
\Y{9}{9}\C 0 6 D098D0;\C 7 19 D000D0;
\Y{8}{8}\C 0 1 D070C0;\C 2 14 D000C0;\C 15 19 C80000;
\Y{7}{7}\C 0 0 B00000;\C 1 19 C00000;
\Y{6}{6}\C 0 2 900000;
\M{2}{2}
\end{axis}
% ---------- (o) ----------
\begin{axis}[panel,at={(473.35pt,42.15pt)},title={$(o)$},xA,xlabel={$r_{\mathrm{tax}}(\%)$}]
\H
\Y{19}{19}\C 1 1 C090C0;\C 2 2 E6E8E6;
\Y{18}{18}\C 1 1 B880B0;
\Y{17}{17}\C 1 1 A87090;
\Y{16}{16}\C 1 1 A00080;
\Y{15}{15}\C 1 1 A80000;
\Y{14}{14}\C 1 1 900000;
\Y{13}{13}\C 1 1 700000;
\Y{14}{18}\C 2 2 E4D8E8;
\Y{11}{13}\C 2 2 E0D0E4;
\Y{10}{10}\C 2 2 E0B8E0;
\Y{9}{9}\C 2 2 E0A8D8;
\Y{8}{8}\C 2 2 E000D0;
\Y{7}{7}\C 2 2 CC0000;
\Y{6}{6}\C 2 2 A00000;
\Y{11}{19}\C 3 3 E8ECE8;
\Y{9}{10}\C 3 3 E4E8E4;
\Y{8}{8}\C 3 3 E4E4EC;
\Y{7}{7}\C 3 3 E4E0EC;
\Y{6}{6}\C 3 3 E0D8E8;
\Y{5}{5}\C 3 3 D8C8D8;
\Y{4}{4}\C 3 3 C80000;
\Y{7}{19}\C 4 19 E6E6E6;
\Y{6}{6}\C 4 4 E4E8E4;\C 5 19 E6E6E6;
\Y{5}{5}\C 4 4 E0ECE0;\C 5 5 E2E8E4;\C 6 19 E6E6E6;
\Y{4}{4}\C 4 4 D8E8E0;\C 5 5 DCECE0;\C 6 9 E0E8E4;\C 10 19 E6E6E6;
\Y{3}{3}\C 4 4 C8D8B0;\C 5 5 D4E8D8;\C 6 9 D8E8DC;\C 10 19 E4E8E6;
\Y{2}{2}\C 5 5 B8E8C8;\C 6 9 C8E8D0;\C 10 19 D8E8E0;
\Y{1}{1}\C 5 8 00BB00;\C 9 9 00EEDD;\C 10 19 C2E6CC;
\Y{0}{0}\C 6 19 00BB00;
\M{2}{2}
\end{axis}
\end{tikzpicture}
\end{document}
